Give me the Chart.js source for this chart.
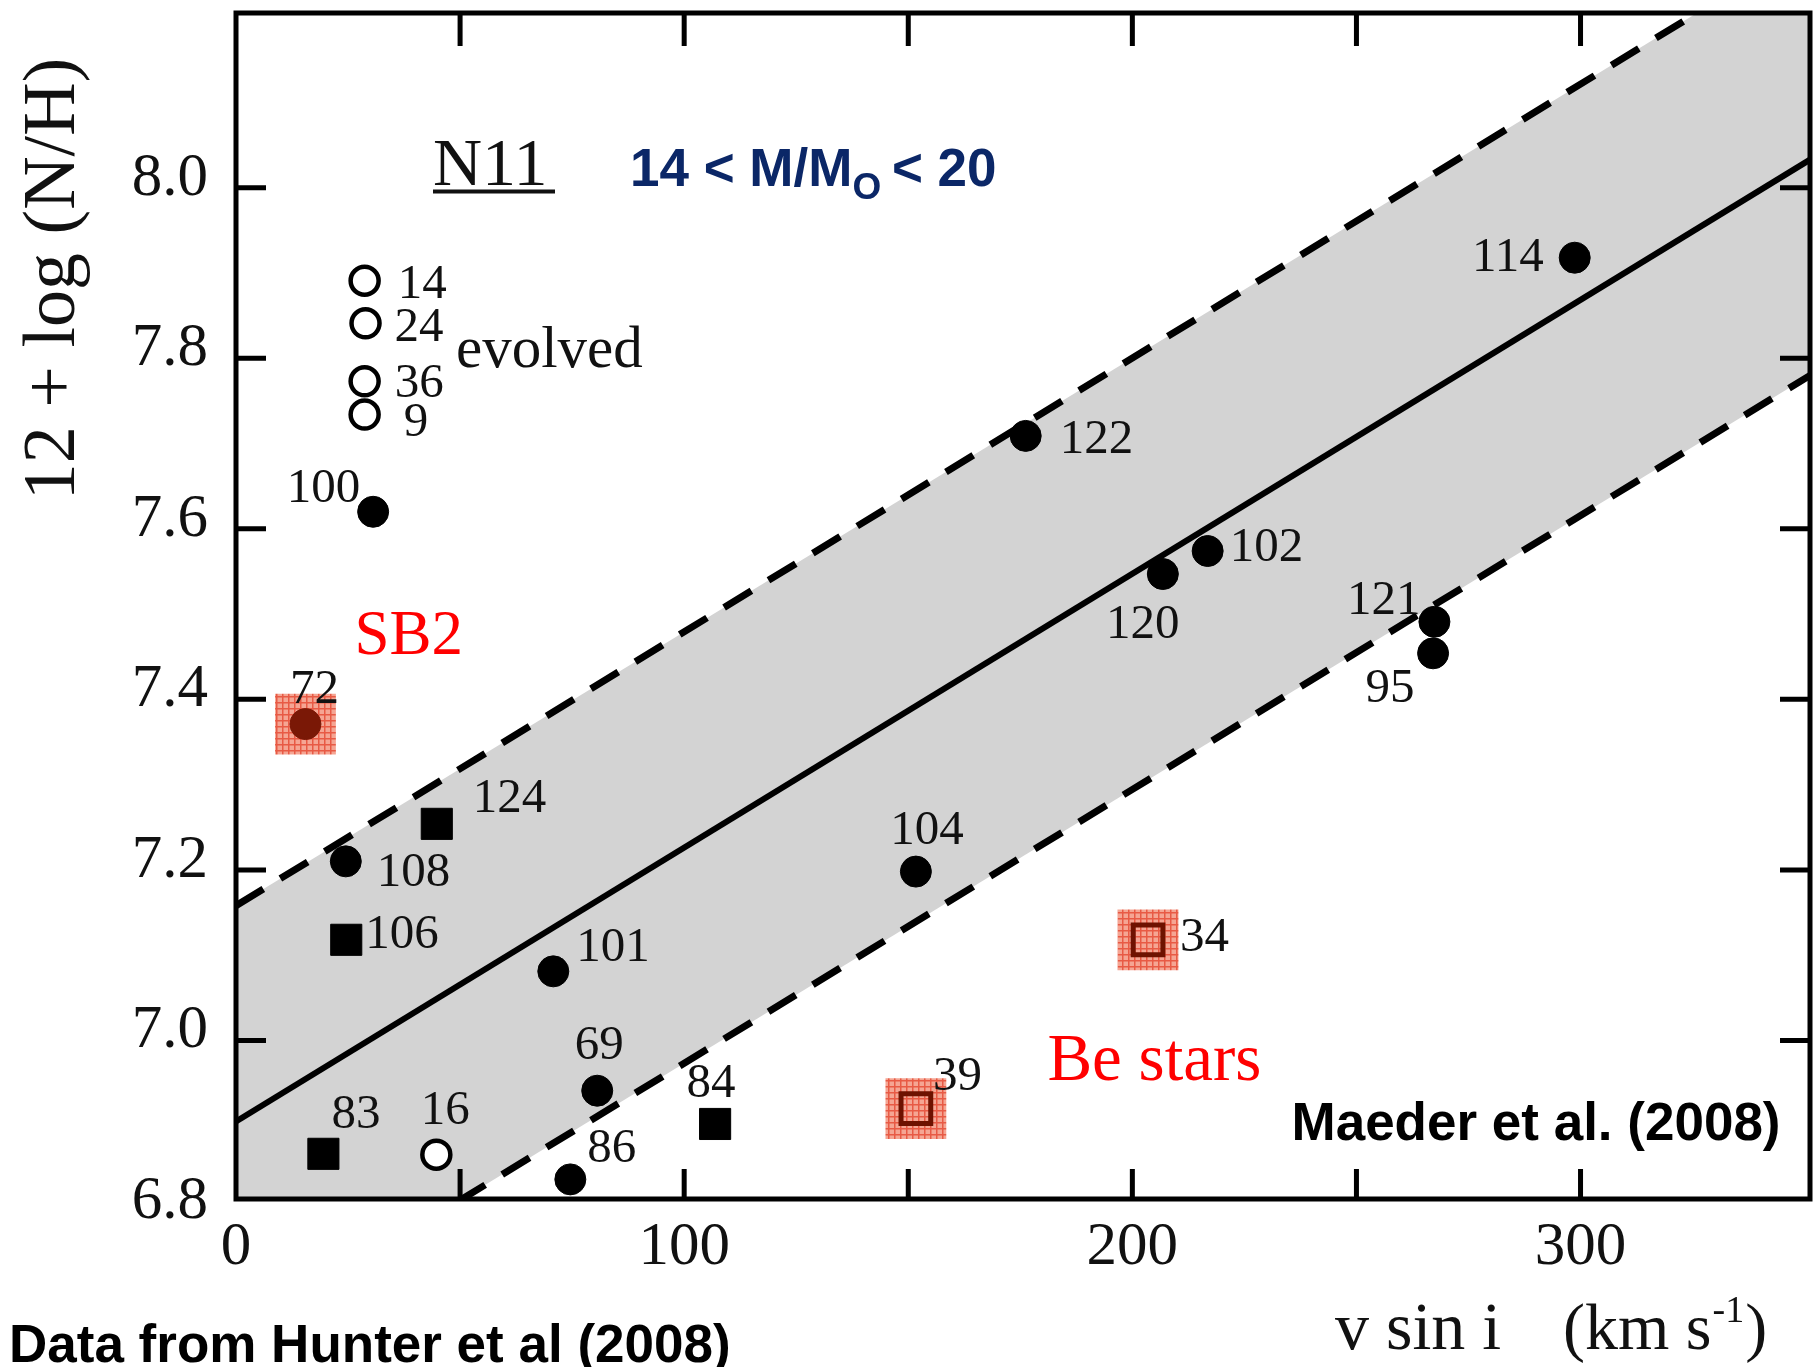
<!DOCTYPE html>
<html>
<head>
<meta charset="utf-8">
<title>N11: 12 + log(N/H) vs v sin i</title>
<script src="https://cdn.jsdelivr.net/npm/chart.js@4.4.1/dist/chart.umd.min.js"></script>
<style>
  html, body { margin: 0; padding: 0; background: #fff; }
  #wrap { width: 1813px; height: 1367px; }
</style>
</head>
<body>
<div id="wrap"><canvas id="chart" width="1813" height="1367"></canvas></div>
<script>
// Axis ticks
const xTicks = [0, 50, 100, 150, 200, 250, 300];
const yTicks = [6.8, 7.0, 7.2, 7.4, 7.6, 7.8, 8.0];

// Filled circles
const dotIds = ['100', '108', '101', '69', '86', '104', '122', '120', '102', '121', '95', '114'];
const dotX = [30.6, 24.5, 70.8, 80.6, 74.6, 151.7, 176.2, 206.8, 216.8, 267.4, 267.1, 298.7];
const dotY = [7.620, 7.210, 7.081, 6.941, 6.837, 7.198, 7.709, 7.547, 7.574, 7.491, 7.454, 7.918];

// Filled squares
const squareIds = ['124', '106', '83', '84'];
const squareX = [44.8, 24.6, 19.5, 106.9];
const squareY = [7.254, 7.118, 6.867, 6.902];

// Open circles (evolved stars and 16)
const openIds = ['14', '24', '36', '9', '16'];
const openX = [28.7, 28.9, 28.7, 28.7, 44.7];
const openY = [7.891, 7.841, 7.773, 7.734, 6.866];

// SB2 and Be stars (highlighted)
const sb2Ids = ['72'];
const sb2X = [15.5];
const sb2Y = [7.371];
const beIds = ['34', '39'];
const beX = [203.5, 151.7];
const beY = [7.118, 6.920];

// Mean relation and its band
const fitX = [0, 351.2];
const fitMid = [6.905, 8.033];
const fitUpper = [7.158, 8.286];
const fitLower = [6.652, 7.780];

const SERIF = '"Liberation Serif", "Times New Roman", serif';
const SANS = '"Liberation Sans", Arial, sans-serif';

// label placement next to each star: [dx, dy(baseline), align]
const labelPlace = {
  '14': [33, 17, 'left'], '24': [29, 18, 'left'], '36': [30, 16, 'left'], '9': [39, 21, 'left'],
  '100': [-13, -10, 'right'], '72': [9, -21, 'center'], '124': [36, -12, 'left'],
  '108': [31, 25, 'left'], '106': [19, 8, 'left'], '101': [23, -10, 'left'],
  '69': [2, -32, 'center'], '83': [8, -26, 'left'], '16': [9, -31, 'center'],
  '86': [17, -17, 'left'], '84': [-4, -27, 'center'], '104': [11, -28, 'center'],
  '34': [32, 11, 'left'], '39': [17, -19, 'left'], '122': [34, 17, 'left'],
  '120': [-20, 64, 'center'], '102': [22, 10, 'left'], '121': [-14, -8, 'right'],
  '95': [-43, 49, 'center'], '114': [-31, 13, 'right']
};

const pts = (xs, ys) => xs.map((x, i) => ({ x: x, y: ys[i] }));

function meshPattern(ctx) {
  const tile = document.createElement('canvas');
  tile.width = 6;
  tile.height = 6;
  const g = tile.getContext('2d');
  g.fillStyle = '#f5a593';
  g.fillRect(0, 0, 6, 6);
  g.fillStyle = '#e85a45';
  g.fillRect(0, 0, 6, 1.5);
  g.fillRect(0, 0, 1.5, 6);
  return ctx.createPattern(tile, 'repeat');
}

// frame and inward tick marks
const frameTicks = {
  id: 'frameTicks',
  afterDatasetsDraw(chart) {
    const { ctx, chartArea: a, scales: { x, y } } = chart;
    ctx.save();
    ctx.strokeStyle = '#000';
    ctx.lineWidth = 5;
    ctx.strokeRect(a.left, a.top, a.right - a.left, a.bottom - a.top);
    ctx.beginPath();
    xTicks.forEach(v => {
      if (v <= x.min) return;
      const px = x.getPixelForValue(v);
      ctx.moveTo(px, a.bottom); ctx.lineTo(px, a.bottom - 30);
      ctx.moveTo(px, a.top); ctx.lineTo(px, a.top + 33);
    });
    yTicks.forEach(v => {
      if (v <= y.min) return;
      const py = y.getPixelForValue(v);
      ctx.moveTo(a.left, py); ctx.lineTo(a.left + 30, py);
      ctx.moveTo(a.right, py); ctx.lineTo(a.right - 30, py);
    });
    ctx.stroke();
    ctx.restore();
  }
};

// star numbers and text annotations
const annotations = {
  id: 'annotations',
  afterDraw(chart) {
    const { ctx, scales: { x, y } } = chart;
    ctx.save();

    ctx.fillStyle = '#111';
    ctx.font = '49px ' + SERIF;
    ctx.textBaseline = 'alphabetic';
    const groups = [
      [dotIds, dotX, dotY], [squareIds, squareX, squareY], [openIds, openX, openY],
      [sb2Ids, sb2X, sb2Y], [beIds, beX, beY]
    ];
    groups.forEach(([ids, xs, ys]) => {
      ids.forEach((id, i) => {
        const p = labelPlace[id];
        ctx.textAlign = p[2];
        ctx.fillText(id, x.getPixelForValue(xs[i]) + p[0], y.getPixelForValue(ys[i]) + p[1]);
      });
    });

    ctx.textAlign = 'left';
    ctx.fillStyle = '#111';
    ctx.font = '68px ' + SERIF;
    ctx.fillText('N11', 433, 184.5);
    ctx.fillRect(433, 189.5, 122, 4);

    ctx.font = '59px ' + SERIF;
    ctx.fillText('evolved', 456, 366.6);

    // 14 < M/Mo < 20
    ctx.fillStyle = '#0b2767';
    ctx.font = 'bold 53px ' + SANS;
    let cx = 630;
    ctx.fillText('14 < M/M', cx, 186.4);
    cx += ctx.measureText('14 < M/M').width;
    ctx.font = 'bold 37px ' + SANS;
    ctx.fillText('O', cx, 199);
    cx += ctx.measureText('O').width;
    ctx.font = 'bold 53px ' + SANS;
    ctx.fillText(' < 20', cx - 4, 186.4);

    ctx.fillStyle = '#ff0000';
    ctx.font = '63px ' + SERIF;
    ctx.fillText('SB2', 354.4, 653.6);
    ctx.font = '67px ' + SERIF;
    ctx.fillText('Be stars', 1047.4, 1080.3);

    ctx.fillStyle = '#000';
    ctx.font = 'bold 53px ' + SANS;
    ctx.fillText('Maeder et al. (2008)', 1291.5, 1139.6);
    ctx.fillText('Data from Hunter et al (2008)', 9, 1362);

    // axis titles
    ctx.fillStyle = '#111';
    ctx.font = '68px ' + SERIF;
    ctx.fillText('v sin i', 1335, 1349);
    let tx = 1563;
    ctx.font = '66px ' + SERIF;
    ctx.fillText('(km s', tx, 1349);
    tx += ctx.measureText('(km s').width;
    ctx.font = '38px ' + SERIF;
    ctx.fillText('-1', tx + 1, 1322);
    tx += ctx.measureText('-1').width + 2;
    ctx.font = '66px ' + SERIF;
    ctx.fillText(')', tx, 1349);

    ctx.translate(74, 279);
    ctx.rotate(-Math.PI / 2);
    ctx.textAlign = 'center';
    ctx.font = '74px ' + SERIF;
    ctx.fillText('12 + log (N/H)', 0, 0);

    ctx.restore();
  }
};

const canvas = document.getElementById('chart');
const mesh = meshPattern(canvas.getContext('2d'));

new Chart(canvas, {
  type: 'scatter',
  data: {
    datasets: [
      {
        type: 'line',
        data: pts(fitX, fitUpper),
        borderColor: '#000',
        borderWidth: 7,
        borderDash: [32, 20],
        backgroundColor: '#d3d3d3',
        fill: 1,
        pointRadius: 0,
        tension: 0,
        order: 30
      },
      {
        type: 'line',
        data: pts(fitX, fitLower),
        borderColor: '#000',
        borderWidth: 7,
        borderDash: [32, 20],
        fill: false,
        pointRadius: 0,
        tension: 0,
        order: 29
      },
      {
        type: 'line',
        data: pts(fitX, fitMid),
        borderColor: '#000',
        borderWidth: 6,
        fill: false,
        pointRadius: 0,
        tension: 0,
        order: 28
      },
      {
        // highlight boxes around SB2 and Be stars
        data: pts(sb2X.concat(beX), sb2Y.concat(beY)),
        pointStyle: 'rect',
        pointRadius: 43,
        backgroundColor: mesh,
        borderWidth: 0,
        order: 20
      },
      {
        data: pts(dotX, dotY),
        pointStyle: 'circle',
        pointRadius: 15.5,
        backgroundColor: '#000',
        borderColor: '#000',
        borderWidth: 1,
        order: 5
      },
      {
        data: pts(squareX, squareY),
        pointStyle: 'rect',
        pointRadius: 22,
        backgroundColor: '#000',
        borderColor: '#000',
        borderWidth: 1,
        order: 5
      },
      {
        data: pts(openX, openY),
        pointStyle: 'circle',
        pointRadius: 14,
        backgroundColor: '#fff',
        borderColor: '#000',
        borderWidth: 4.5,
        order: 5
      },
      {
        data: pts(sb2X, sb2Y),
        pointStyle: 'circle',
        pointRadius: 15.5,
        backgroundColor: '#7a1806',
        borderColor: '#7a1806',
        borderWidth: 1,
        order: 4
      },
      {
        data: pts(beX, beY),
        pointStyle: 'rect',
        pointRadius: 21,
        backgroundColor: 'rgba(0,0,0,0)',
        borderColor: '#6e1200',
        borderWidth: 5,
        order: 4
      }
    ]
  },
  options: {
    responsive: false,
    animation: false,
    events: [],
    layout: { autoPadding: false, padding: { left: 0, right: 3, top: 13, bottom: 0 } },
    plugins: {
      legend: { display: false },
      tooltip: { enabled: false }
    },
    scales: {
      x: {
        type: 'linear',
        min: 0,
        max: 351.2,
        afterBuildTicks: scale => { scale.ticks = xTicks.map(v => ({ value: v })); },
        afterFit: scale => {
          scale.height = 168;
          scale.paddingLeft = 0;
          scale.paddingRight = 0;
        },
        grid: { display: false, drawTicks: false },
        border: { display: false },
        ticks: {
          autoSkip: false,
          maxRotation: 0,
          padding: 18,
          color: '#111',
          font: { family: SERIF, size: 61, lineHeight: 1 },
          callback: v => (v % 100 === 0 ? String(v) : '')
        }
      },
      y: {
        type: 'linear',
        min: 6.814,
        max: 8.205,
        afterBuildTicks: scale => { scale.ticks = yTicks.map(v => ({ value: v })); },
        afterFit: scale => {
          scale.width = 236;
          scale.paddingTop = 0;
          scale.paddingBottom = 0;
        },
        grid: { display: false, drawTicks: false },
        border: { display: false },
        ticks: {
          autoSkip: false,
          padding: 28,
          labelOffset: -9,
          color: '#111',
          font: { family: SERIF, size: 61, lineHeight: 1 },
          callback: v => v.toFixed(1)
        }
      }
    }
  },
  plugins: [frameTicks, annotations]
});
</script>
</body>
</html>
